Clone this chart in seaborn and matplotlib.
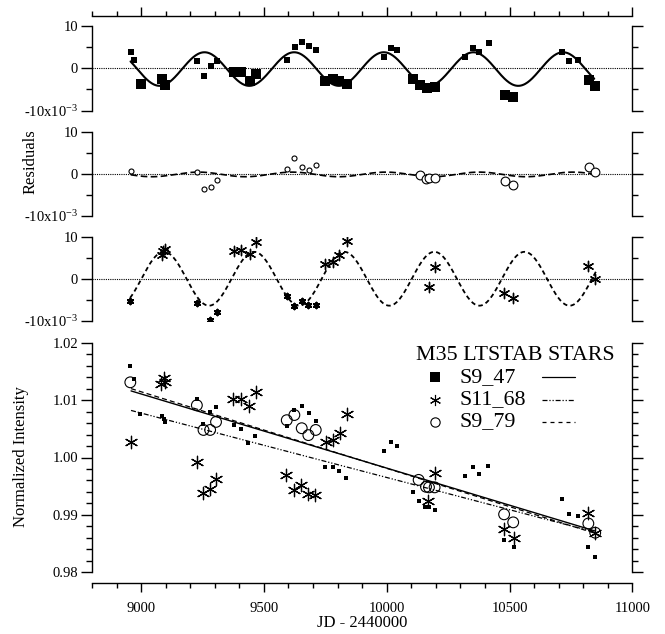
import numpy as np
import matplotlib
matplotlib.use("Agg")
import matplotlib.pyplot as plt
from matplotlib.ticker import MultipleLocator, FuncFormatter
import seaborn as sns

# ---- residual panels (units of 1e-3) ----
# S9_47, two observing groups (small / large symbols)
s947_jd_a = [8958, 8969, 9228, 9256, 9284, 9309, 9593, 9625, 9654, 9685, 9711,
             9988, 10017, 10041, 10320, 10351, 10377, 10415, 10714, 10744, 10780]
s947_res_a = [3.9, 1.95, 1.8, -1.9, 0.4, 1.6, 1.95, 4.9, 6.1, 5.3, 4.3,
              2.7, 4.7, 4.3, 2.7, 4.8, 3.9, 5.9, 3.9, 1.7, 1.95]
s947_jd_b = [8998, 9083, 9097, 9379, 9405, 9443, 9469, 9749, 9780, 9806, 9837,
             10109, 10135, 10164, 10195, 10481, 10515, 10823, 10849]
s947_res_b = [-3.7, -2.5, -3.9, -0.8, -1.0, -3.0, -1.3, -3.1, -2.6, -3.0, -3.7,
              -2.5, -3.9, -4.7, -4.5, -6.3, -6.8, -2.8, -4.3]

# S9_79
s979_jd_a = [8958, 9227, 9256, 9284, 9309, 9593, 9624, 9654, 9685, 9711]
s979_res_a = [0.8, 0.4, -3.5, -3.2, -1.4, 1.1, 3.7, 1.7, 0.9, 2.2]
s979_jd_b = [10135, 10161, 10174, 10195, 10481, 10515, 10823, 10849]
s979_res_b = [-0.3, -1.3, -1.0, -1.0, -1.7, -2.5, 1.7, 0.5]

# S11_68
s1168_jd_a = [8955, 9227, 9282, 9309, 9593, 9624, 9654, 9681, 9711]
s1168_res_a = [-5.3, -5.9, -9.8, -7.9, -4.1, -6.5, -5.3, -6.3, -6.3]
s1168_jd_b = [9083, 9090, 9097, 9379, 9408, 9443, 9469, 9749, 9780, 9806, 9837,
              10174, 10195, 10477, 10515, 10818, 10849]
s1168_res_b = [5.8, 6.6, 7.1, 6.7, 7.0, 6.0, 8.8, 3.5, 4.0, 5.6, 9.0,
               -2.0, 2.9, -3.5, -4.7, 3.0, -0.1]

# sinusoid fits: amplitude, offset, period, epoch of a maximum, span
fit947 = dict(amp=3.95, off=-0.2, period=365.0, peak=9988.0, start=8957, end=10845)
fit979 = dict(amp=0.55, off=-0.1, period=381.0, peak=9234.0, start=8958, end=10849)
fit1168 = dict(amp=6.45, off=0.0, period=367.0, peak=9093.0, start=8955, end=10852)

# ---- normalized intensity ----
int947_jd = [8956, 8970, 8996, 9084, 9092, 9098, 9227, 9254, 9281, 9305, 9379, 9408,
             9437, 9465, 9593, 9624, 9654, 9685, 9711, 9749, 9780, 9806, 9835, 9988,
             10017, 10041, 10108, 10131, 10155, 10173, 10197, 10319, 10352, 10376,
             10414, 10478, 10518, 10715, 10742, 10780, 10821, 10849]
int947 = [1.0159, 1.0137, 1.0076, 1.0073, 1.0067, 1.0061, 1.0102, 1.0059, 1.0079,
          1.0088, 1.0056, 1.0049, 1.0026, 1.0038, 1.0055, 1.0083, 1.0090, 1.0077,
          1.0063, 0.9983, 0.9983, 0.9976, 0.9964, 1.0011, 1.0027, 1.0020, 0.9940,
          0.9924, 0.9914, 0.9913, 0.9909, 0.9967, 0.9983, 0.9971, 0.9985, 0.9856,
          0.9844, 0.9927, 0.9901, 0.9898, 0.9844, 0.9826]
int1168_jd = [8959, 9081, 9092, 9098, 9227, 9254, 9281, 9305, 9374, 9405, 9440, 9469,
              9590, 9621, 9650, 9681, 9706, 9754, 9780, 9810, 9838, 10169, 10195,
              10478, 10518, 10821, 10849]
int1168 = [1.0027, 1.0128, 1.0138, 1.0132, 0.9992, 0.9939, 0.9945, 0.9963, 1.0102,
           1.0102, 1.0090, 1.0114, 0.9970, 0.9943, 0.9952, 0.9936, 0.9934, 1.0027,
           1.0031, 1.0042, 1.0076, 0.9925, 0.9973, 0.9876, 0.9859, 0.9903, 0.9869]
int979_jd = [8956, 9227, 9254, 9281, 9305, 9593, 9624, 9654, 9681, 9711, 10130, 10160,
             10172, 10195, 10478, 10515, 10821, 10849]
int979 = [1.0131, 1.0091, 1.0048, 1.0048, 1.0062, 1.0065, 1.0074, 1.0051, 1.0039,
          1.0048, 0.9961, 0.9949, 0.9948, 0.9948, 0.9901, 0.9887, 0.9885, 0.9869]

# linear trends (end points)
trend_jd = [8959, 10848]
trend947 = [1.0116, 0.9872]
trend1168 = [1.0082, 0.9870]
trend979 = [1.0120, 0.9868]

series_names = ["S9_47", "S11_68", "S9_79"]
legend_title = "M35 LTSTAB STARS"

sns.set_theme(style="white")
plt.rcParams["font.family"] = ["Liberation Serif", "DejaVu Serif"]
plt.rcParams["mathtext.default"] = "regular"
plt.rcParams["axes.linewidth"] = 1.0
plt.rcParams["text.color"] = "black"
plt.rcParams["axes.labelcolor"] = "black"
plt.rcParams["xtick.color"] = "black"
plt.rcParams["ytick.color"] = "black"

W, H = 665, 634
fig = plt.figure(figsize=(W / 100, H / 100), dpi=100)


def rect(top, bottom):
    return [92 / W, 1 - bottom / H, (632.3 - 92) / W, (bottom - top) / H]


ax1 = fig.add_axes(rect(25.7, 110.7))
ax2 = fig.add_axes(rect(132, 216))
ax3 = fig.add_axes(rect(237, 320.5))
ax4 = fig.add_axes(rect(342.7, 572.3))

tick_fs = 10.5


def res_label(v, pos):
    if abs(v - 10) < 1e-6:
        return "10"
    if abs(v) < 1e-6:
        return "0"
    if abs(v + 10) < 1e-6:
        return "-10x10$^{-3}$"
    return ""


for ax in (ax1, ax2, ax3, ax4):
    ax.set_xlim(8800, 11000)
    for s in ax.spines.values():
        s.set_color("black")
        s.set_linewidth(1.0)
    ax.spines["top"].set_visible(False)
    ax.spines["bottom"].set_visible(False)
    ax.xaxis.set_major_locator(MultipleLocator(500))
    ax.xaxis.set_minor_locator(MultipleLocator(100))
    ax.tick_params(axis="y", which="both", direction="out", left=True, right=True,
                   labelleft=True, labelright=False, width=1.0, labelsize=tick_fs, pad=2)
    ax.tick_params(axis="y", which="major", length=8)
    ax.tick_params(axis="y", which="minor", length=4.5)
    ax.tick_params(axis="x", which="both", bottom=False, top=False,
                   labelbottom=False, labeltop=False, direction="out", width=1.0)
    ax.tick_params(axis="x", which="major", length=6.5)
    ax.tick_params(axis="x", which="minor", length=3.8)
    ax.set_facecolor("white")

for ax in (ax1, ax2, ax3):
    ax.set_ylim(-10, 10)
    ax.yaxis.set_major_locator(MultipleLocator(10))
    ax.yaxis.set_minor_locator(MultipleLocator(5))
    ax.yaxis.set_major_formatter(FuncFormatter(res_label))
    ax.axhline(0, color="black", lw=0.8, ls=(0, (1, 1)), zorder=1)

# top axis line on the first panel
ax1.spines["top"].set_visible(True)
ax1.spines["top"].set_position(("outward", 7))
ax1.tick_params(axis="x", which="both", top=True)


def draw_fit(ax, p, ls, lw):
    t = np.linspace(p["start"], p["end"], 600)
    y = p["off"] + p["amp"] * np.cos(2 * np.pi * (t - p["peak"]) / p["period"])
    sns.lineplot(x=t, y=y, ax=ax, color="black", lw=lw, linestyle=ls,
                 errorbar=None, zorder=2)


# panel 1: S9_47
draw_fit(ax1, fit947, "-", 1.5)
sns.scatterplot(x=s947_jd_a, y=s947_res_a, ax=ax1, marker="s", s=14, color="black",
                linewidth=0, zorder=3)
sns.scatterplot(x=s947_jd_b, y=s947_res_b, ax=ax1, marker="s", s=44, color="black",
                linewidth=0, zorder=3)

# panel 2: S9_79
draw_fit(ax2, fit979, (0, (4, 2)), 1.2)
sns.scatterplot(x=s979_jd_a, y=s979_res_a, ax=ax2, marker="o", s=13, facecolor="white",
                edgecolor="black", linewidth=0.8, zorder=3)
sns.scatterplot(x=s979_jd_b, y=s979_res_b, ax=ax2, marker="o", s=40, facecolor="white",
                edgecolor="black", linewidth=0.8, zorder=3)
ax2.set_ylabel("Residuals", fontsize=12)
ax2.yaxis.set_label_coords(-0.0999, 0.643)

# panel 3: S11_68
draw_fit(ax3, fit1168, (0, (2.5, 1.8)), 1.3)
sns.scatterplot(x=s1168_jd_a, y=s1168_res_a, ax=ax3, marker=(6, 2, 0), s=16,
                color="black", edgecolor="black", linewidth=1.5, zorder=3)
sns.scatterplot(x=s1168_jd_b, y=s1168_res_b, ax=ax3, marker=(6, 2, 0), s=55,
                color="black", edgecolor="black", linewidth=1.0, zorder=3)

# panel 4: normalized intensity
ax4.set_ylim(0.98, 1.02)
ax4.yaxis.set_major_locator(MultipleLocator(0.01))
ax4.yaxis.set_minor_locator(MultipleLocator(0.002))
ax4.yaxis.set_major_formatter(FuncFormatter(lambda v, p: f"{v:.2f}"))
ax4.spines["bottom"].set_visible(True)
ax4.spines["bottom"].set_position(("outward", 8))
ax4.tick_params(axis="x", which="both", bottom=True, labelbottom=True,
                labelsize=tick_fs, pad=7)

sns.lineplot(x=trend_jd, y=trend947, ax=ax4, color="black", lw=1.0, errorbar=None)
sns.lineplot(x=trend_jd, y=trend1168, ax=ax4, color="black", lw=0.9,
             linestyle=(0, (4, 1.5, 1, 1.5, 1, 1.5)), errorbar=None)
sns.lineplot(x=trend_jd, y=trend979, ax=ax4, color="black", lw=0.9,
             linestyle=(0, (4, 2.5)), errorbar=None)

sns.scatterplot(x=int947_jd, y=int947, ax=ax4, marker="s", s=11, color="black",
                linewidth=0, zorder=3)
sns.scatterplot(x=int1168_jd, y=int1168, ax=ax4, marker=(6, 2, 0), s=80,
                color="black", edgecolor="black", linewidth=0.9, zorder=3)
sns.scatterplot(x=int979_jd, y=int979, ax=ax4, marker="o", s=60, facecolor="none",
                edgecolor="black", linewidth=0.8, zorder=3)

ax4.set_ylabel("Normalized Intensity", fontsize=12)
ax4.yaxis.set_label_coords(-0.1166, 0.502)
ax4.set_xlabel("JD - 2440000", fontsize=12, labelpad=0)

# legend drawn in the corner of the intensity panel
leg_fs = 15.8
ax4.text(0.5997, 0.9247, legend_title, transform=ax4.transAxes, fontsize=leg_fs,
         va="baseline", ha="left")
rows_y = [0.8493, 0.7526, 0.6546]
base_y = [0.8275, 0.733, 0.6385]
mk = [dict(marker="s", ms=7, mfc="black", mec="black", mew=0),
      dict(marker=(6, 2, 0), ms=8, mfc="black", mec="black", mew=0.8),
      dict(marker="o", ms=6.7, mfc="none", mec="black", mew=0.8)]
ls = ["-", (0, (4, 1.5, 1, 1.5, 1, 1.5)), (0, (3.2, 3.2))]
for name, yc, yb, m, l in zip(series_names, rows_y, base_y, mk, ls):
    ax4.plot([0.6348], [yc], transform=ax4.transAxes, ls="none", **m)
    ax4.text(0.6811, yb, name, transform=ax4.transAxes, fontsize=leg_fs,
             va="baseline", ha="left")
    ax4.plot([0.8323, 0.8939], [yc, yc], transform=ax4.transAxes, color="black",
             lw=0.9, ls=l)

fig.savefig("out.png", dpi=100, facecolor="white")
